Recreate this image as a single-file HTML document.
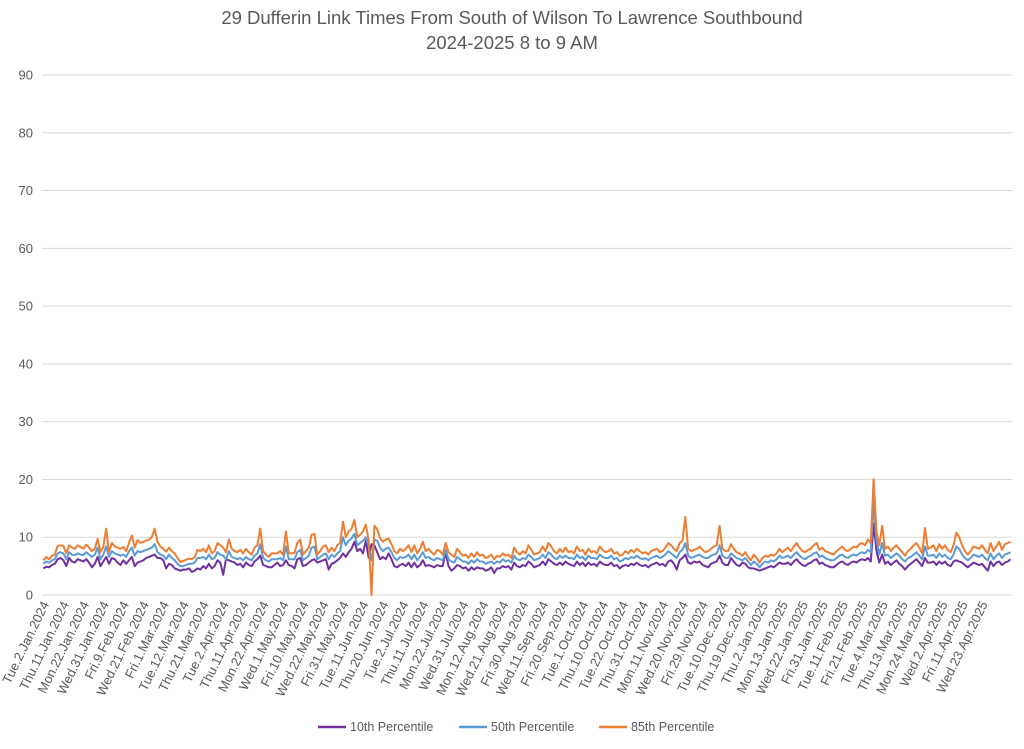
<!DOCTYPE html>
<html><head><meta charset="utf-8"><style>
body{margin:0;background:#fff;font-family:"Liberation Sans",Arial,sans-serif}
</style></head><body>
<svg id="chart" width="1024" height="744" xmlns="http://www.w3.org/2000/svg">
<text x="512" y="24" text-anchor="middle" font-size="18.5" fill="#595959">29 Dufferin Link Times From South of Wilson To Lawrence Southbound</text>
<text x="512" y="49" text-anchor="middle" font-size="18.5" fill="#595959">2024-2025 8 to 9 AM</text>
<g id="grid"></g><g id="ylabels"></g><g id="xlabels"></g><g id="series"></g>
<g font-size="12.5" fill="#595959">
<line x1="318" y1="727" x2="346" y2="727" stroke="#7030a0" stroke-width="2.5"/>
<text x="350" y="731">10th Percentile</text>
<line x1="459" y1="727" x2="487" y2="727" stroke="#5b9bd5" stroke-width="2.5"/>
<text x="491" y="731">50th Percentile</text>
<line x1="599" y1="727" x2="627" y2="727" stroke="#ed7d31" stroke-width="2.5"/>
<text x="631" y="731">85th Percentile</text>
</g>
</svg>
<script>
const yTicks=[0,10,20,30,40,50,60,70,80,90];
const xLabels=["Tue.2.Jan.2024","Thu.11.Jan.2024","Mon.22.Jan.2024","Wed.31.Jan.2024","Fri.9.Feb.2024","Wed.21.Feb.2024","Fri.1.Mar.2024","Tue.12.Mar.2024","Thu.21.Mar.2024","Tue.2.Apr.2024","Thu.11.Apr.2024","Mon.22.Apr.2024","Wed.1.May.2024","Fri.10.May.2024","Wed.22.May.2024","Fri.31.May.2024","Tue.11.Jun.2024","Thu.20.Jun.2024","Tue.2.Jul.2024","Thu.11.Jul.2024","Mon.22.Jul.2024","Wed.31.Jul.2024","Mon.12.Aug.2024","Wed.21.Aug.2024","Fri.30.Aug.2024","Wed.11.Sep.2024","Fri.20.Sep.2024","Tue.1.Oct.2024","Thu.10.Oct.2024","Tue.22.Oct.2024","Thu.31.Oct.2024","Mon.11.Nov.2024","Wed.20.Nov.2024","Fri.29.Nov.2024","Tue.10.Dec.2024","Thu.19.Dec.2024","Thu.2.Jan.2025","Mon.13.Jan.2025","Wed.22.Jan.2025","Fri.31.Jan.2025","Tue.11.Feb.2025","Fri.21.Feb.2025","Tue.4.Mar.2025","Thu.13.Mar.2025","Mon.24.Mar.2025","Wed.2.Apr.2025","Fri.11.Apr.2025","Wed.23.Apr.2025"];
const labelEvery=7;
const p85=[6.0,6.6,6.2,6.8,7.0,8.5,8.6,8.5,7.2,8.6,8.2,8.0,8.6,8.3,8.0,8.7,8.2,7.6,8.0,9.7,
7.4,8.3,11.5,7.4,9.0,8.4,8.2,8.0,8.3,7.6,9.0,10.3,8.2,9.5,9.0,9.2,9.4,9.6,10.0,11.5,
9.2,8.4,8.0,7.5,8.2,7.6,7.2,6.4,5.7,5.9,6.1,6.3,6.2,6.5,7.8,7.6,8.0,7.4,8.6,7.2,
7.6,9.0,8.6,8.2,7.4,9.6,8.0,7.6,7.4,7.8,7.2,8.0,7.4,7.0,8.2,8.6,11.5,7.6,7.0,6.6,
7.2,7.2,7.2,7.6,7.0,11.0,7.2,7.2,7.3,9.0,9.6,7.0,7.6,8.2,10.4,10.6,7.0,7.6,8.4,8.6,
7.4,8.2,7.6,8.6,9.0,12.7,10.0,11.0,11.4,13.0,10.0,10.4,11.0,12.2,9.5,0.0,12.0,11.4,9.8,9.2,
9.6,9.8,8.8,7.6,7.2,8.0,7.6,8.0,8.6,7.4,8.6,7.2,8.0,9.2,7.6,8.0,7.4,7.0,7.8,7.6,
7.0,9.0,7.4,7.0,6.6,8.0,7.4,6.8,7.0,6.4,7.2,6.6,7.4,6.8,7.0,6.4,6.6,7.0,6.2,6.8,
6.6,7.2,6.8,7.0,6.4,8.2,7.4,7.0,7.6,7.2,8.6,7.8,7.0,7.2,7.4,8.4,7.6,9.0,8.4,7.6,
7.2,8.0,7.4,8.2,7.4,7.6,7.2,8.4,7.6,7.8,7.0,8.0,7.4,7.6,7.2,8.4,7.8,7.4,7.6,8.0,
7.2,7.4,6.8,7.0,7.6,7.2,7.8,7.4,8.0,7.6,7.2,7.4,7.0,7.6,7.8,8.0,7.4,7.6,8.2,9.0,
8.6,8.0,7.6,9.0,9.4,13.5,8.0,7.6,7.8,8.0,8.4,7.8,7.4,7.6,8.0,8.4,8.6,12.0,8.0,7.6,
7.6,8.8,8.0,7.4,7.2,6.8,7.4,6.6,6.0,7.0,6.4,5.6,6.4,6.8,6.6,7.0,6.8,7.2,8.0,7.4,
7.8,8.2,7.6,8.4,9.0,8.2,7.6,7.4,7.8,8.0,8.6,9.0,7.8,8.2,7.6,7.4,7.2,7.0,7.6,8.0,
8.4,7.8,7.6,8.0,8.4,8.2,8.8,9.0,8.6,9.6,9.0,20.0,11.0,8.6,12.0,8.0,8.4,7.6,8.2,8.6,
8.0,7.4,6.8,7.6,8.0,8.6,9.0,8.2,7.2,11.6,8.0,8.2,8.6,7.6,8.8,8.0,8.6,7.8,7.4,8.6,
10.8,10.0,8.6,7.6,7.0,7.6,8.4,8.2,8.0,8.6,7.8,7.2,9.0,7.6,8.4,9.2,7.8,8.8,9.0,9.2];
const p50=[5.4,5.8,5.6,6.0,6.2,7.2,7.4,7.2,6.2,7.4,7.0,6.9,7.2,7.0,6.9,7.4,7.0,6.6,7.0,8.2,
6.2,7.0,8.4,6.6,7.6,7.2,7.0,6.8,7.0,6.6,7.6,8.2,6.8,7.6,7.4,7.6,7.8,8.0,8.2,8.8,
7.4,7.0,6.8,6.2,7.0,6.4,6.0,5.4,5.0,5.0,5.2,5.4,5.4,5.6,6.4,6.4,6.6,6.2,7.0,6.2,
6.4,7.4,7.0,6.8,6.2,7.6,6.6,6.4,6.2,6.4,6.0,6.6,6.2,6.0,6.8,7.2,8.8,6.4,6.0,5.8,
6.2,6.2,6.2,6.4,6.0,8.4,6.2,6.2,6.2,7.4,7.8,6.0,6.4,6.8,8.2,8.4,6.2,6.6,7.0,7.2,
6.2,7.0,6.6,7.2,7.6,10.0,8.6,9.4,9.8,10.6,8.6,9.0,9.4,10.0,8.4,6.0,9.6,9.4,8.2,7.6,
8.0,8.2,7.4,6.4,6.0,6.6,6.4,6.6,7.0,6.2,7.0,6.0,6.6,7.4,6.4,6.6,6.2,6.0,6.4,6.2,
6.0,7.8,6.2,5.8,5.6,6.6,6.2,5.8,5.8,5.4,6.0,5.6,6.2,5.8,5.8,5.4,5.6,5.8,5.4,5.8,
5.6,6.2,5.8,6.0,5.6,6.8,6.2,6.0,6.4,6.2,7.0,6.6,6.0,6.2,6.4,7.0,6.4,7.4,7.0,6.4,
6.2,6.8,6.4,6.8,6.4,6.4,6.2,7.0,6.4,6.6,6.0,6.8,6.4,6.4,6.2,7.0,6.6,6.4,6.4,6.8,
6.2,6.4,5.8,6.0,6.4,6.2,6.6,6.4,6.8,6.4,6.2,6.4,6.0,6.4,6.6,6.8,6.4,6.6,7.0,7.6,
7.2,6.8,6.4,7.4,7.8,9.0,6.8,6.4,6.6,6.8,7.0,6.6,6.4,6.4,6.8,7.0,7.2,8.6,6.8,6.4,
6.4,7.2,6.8,6.4,6.2,6.0,6.4,5.8,5.2,5.8,5.4,4.8,5.4,5.8,5.6,6.0,5.8,6.2,6.8,6.4,
6.6,6.8,6.4,7.0,7.4,6.8,6.4,6.2,6.6,6.8,7.2,7.4,6.6,6.8,6.4,6.2,6.0,6.0,6.4,6.8,
7.0,6.6,6.4,6.8,7.0,6.8,7.2,7.4,7.2,7.8,7.4,16.0,9.4,7.0,9.0,6.8,7.0,6.4,6.8,7.2,
6.8,6.2,5.8,6.4,6.6,7.0,7.4,6.8,6.2,8.4,6.8,6.8,7.0,6.4,7.2,6.6,7.0,6.4,6.2,7.0,
8.4,8.0,7.0,6.4,6.0,6.4,7.0,6.8,6.6,7.0,6.4,6.0,7.2,6.2,6.8,7.2,6.4,7.0,7.2,7.4];
const p10=[4.6,4.9,4.8,5.2,5.4,6.2,6.4,6.0,5.0,6.4,5.8,5.6,6.2,6.0,5.8,6.2,5.6,4.8,5.4,6.6,
5.0,5.8,6.6,5.4,6.4,6.2,5.6,5.2,6.0,5.4,6.0,6.6,5.0,5.6,5.8,6.0,6.4,6.6,6.8,7.0,
6.4,6.4,6.0,4.6,5.4,5.2,4.6,4.4,4.2,4.4,4.4,4.6,4.0,4.2,4.6,4.4,5.0,4.6,5.4,4.6,
5.0,6.0,5.6,3.5,6.2,6.0,5.8,5.6,5.2,5.4,4.8,5.6,5.2,5.0,5.8,6.2,6.8,5.2,5.0,4.8,
4.8,5.2,5.6,5.0,5.2,6.0,5.2,5.0,4.6,6.2,6.4,5.0,5.2,5.6,6.0,6.2,5.6,5.8,6.0,6.2,
4.4,5.4,5.6,6.0,6.4,7.2,6.6,7.4,8.0,9.2,7.6,8.0,7.2,9.4,6.4,8.8,8.6,7.4,6.2,6.6,
6.2,7.2,6.2,5.0,4.8,5.2,5.4,5.0,5.6,4.8,5.6,4.8,5.2,6.0,5.0,5.2,5.0,4.8,5.2,5.0,
5.0,7.4,5.0,4.2,4.6,5.2,5.0,4.6,4.8,4.2,4.8,4.4,4.8,4.6,4.6,4.2,4.4,4.8,3.8,4.6,
4.6,5.0,4.8,5.0,4.4,5.6,5.0,4.8,5.2,5.0,5.8,5.4,4.8,5.0,5.2,5.8,5.2,6.2,5.8,5.4,
5.2,5.6,5.2,5.8,5.4,5.2,5.0,5.8,5.2,5.6,5.0,5.6,5.2,5.4,5.0,5.8,5.4,5.2,5.2,5.6,
5.0,5.2,4.6,5.0,5.2,5.0,5.4,5.2,5.6,5.2,5.0,5.2,4.8,5.2,5.4,5.6,5.2,5.4,5.0,5.8,
6.0,5.4,4.4,6.0,6.4,7.0,5.6,5.4,5.8,5.6,5.8,5.2,5.0,4.8,5.4,5.6,5.8,6.8,5.6,5.2,
5.2,6.4,5.8,5.2,5.0,5.6,5.4,4.8,4.6,4.6,4.4,4.2,4.4,4.6,4.8,5.0,4.8,5.2,5.6,5.4,
5.4,5.6,5.2,5.8,6.2,5.6,5.2,5.0,5.4,5.6,6.0,6.2,5.4,5.6,5.2,5.0,4.8,4.8,5.2,5.6,
5.8,5.4,5.2,5.6,5.8,5.6,6.0,6.2,6.0,6.4,5.8,12.4,7.6,5.6,7.0,5.4,5.8,5.2,5.6,6.0,
5.4,5.0,4.4,5.0,5.4,5.8,6.2,5.6,5.0,6.4,5.6,5.6,5.8,5.2,5.8,5.4,5.8,5.2,5.0,5.8,
6.0,5.8,5.6,5.2,4.8,5.2,5.6,5.4,5.2,5.4,4.8,4.2,5.8,5.0,5.6,5.8,5.2,5.6,5.8,6.2];

const NS='http://www.w3.org/2000/svg';
const L=42,R=1012,T=75,B=595,YMAX=90;
const N=p85.length, step=(R-L)/N;
function xPos(i){return L+step*(i+0.5);}
function yPos(v){return B-(v/YMAX)*(B-T);}
function mk(tag,attrs,parent){const e=document.createElementNS(NS,tag);for(const k in attrs)e.setAttribute(k,attrs[k]);parent.appendChild(e);return e;}
const grid=document.getElementById('grid'),yl=document.getElementById('ylabels'),xl=document.getElementById('xlabels'),ser=document.getElementById('series');
yTicks.forEach(t=>{
  const g=mk('line',{x1:L,x2:R,y1:yPos(t),y2:yPos(t),stroke:'#d9d9d9','stroke-width':1},grid);
  
  
  const tx=mk('text',{x:33,y:yPos(t)+4.5,'text-anchor':'end','font-size':13,fill:'#595959'},yl);
  tx.textContent=t;
  
  
});
xLabels.forEach((lab,k)=>{
  const x=xPos(k*labelEvery)+6, y=604;
  const tx=mk('text',{x:x,y:y,'text-anchor':'end','font-size':13,fill:'#595959',transform:`rotate(-64 ${x} ${y})`},xl);
  tx.textContent=lab;
  
  
});
[[p10,'#7030a0','line-10th-percentile'],[p50,'#5b9bd5','line-50th-percentile'],[p85,'#ed7d31','line-85th-percentile']].forEach(([d,c,n])=>{
  const pts=d.map((v,i)=>xPos(i).toFixed(1)+','+yPos(v).toFixed(1)).join(' ');
  const pl=mk('polyline',{points:pts,fill:'none',stroke:c,'stroke-width':2,'stroke-linejoin':'round'},ser);
  
  
});
</script>
</body></html>
